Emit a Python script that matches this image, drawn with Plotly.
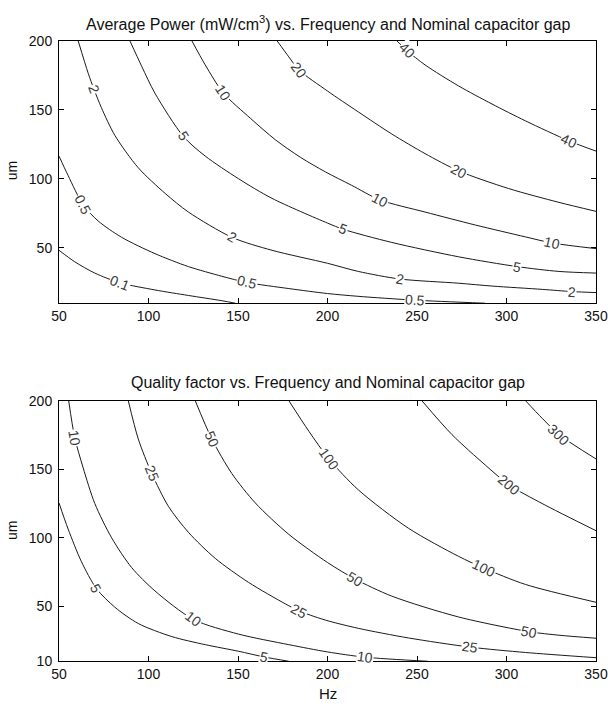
import math
import plotly.graph_objects as go

# ---------------- data ----------------
FREQ_TICKS = [50, 100, 150, 200, 250, 300, 350]
GAP_TICKS_TOP = [50, 100, 150, 200]
GAP_TICKS_BOTTOM = [10, 50, 100, 150, 200]

# Average power contour lines: frequency (Hz) / gap (um)
p_levels = [0.1, 0.5, 2, 5, 10, 20, 40]
p_01_x = [50, 58.8, 70.0, 84.0, 103.6, 122.3, 141.0, 148.5]
p_01_y = [48.3, 40.0, 31.8, 24.8, 19.6, 15.6, 11.8, 10.0]
p_05_x = [50, 55.1, 63.5, 71.9, 85.0, 103.6, 122.3, 141.0, 155.0, 178.4, 200.0, 217.0, 248.9, 288.0]
p_05_y = [116.5, 102.4, 81.2, 69.5, 57.7, 45.9, 36.5, 29.5, 25.0, 20.6, 17.0, 15.0, 12.2, 10.0]
p_2_x = [60.7, 66.3, 69.5, 73.7, 81.2, 94.3, 109.3, 122.3, 146.6, 169.0, 200.0, 217.2, 240.5, 273.0, 292.0, 320.0, 336.7, 350.0]
p_2_y = [200.0, 176.5, 165.0, 151.5, 131.5, 108.0, 89.5, 76.0, 57.7, 48.3, 38.9, 33.0, 27.5, 24.5, 22.4, 20.0, 18.4, 17.7]
p_5_x = [89.6, 96.2, 103.6, 119.5, 131.7, 150.3, 169.0, 200.0, 208.8, 235.9, 273.2, 305.9, 329.3, 350.0]
p_5_y = [200.0, 181.5, 162.0, 130.7, 116.5, 100.1, 85.9, 68.0, 63.5, 54.0, 43.6, 36.5, 33.0, 31.8]
p_10_x = [124.2, 131.7, 141.8, 156.9, 170.9, 184.9, 198.9, 213.4, 229.3, 254.5, 282.6, 310.6, 325.5, 350.0]
p_10_y = [200.0, 182.5, 162.2, 143.9, 128.3, 115.6, 105.0, 95.4, 84.8, 76.0, 66.6, 58.0, 53.6, 49.5]
p_20_x = [171.8, 178.4, 184.0, 200.0, 217.2, 235.9, 254.5, 273.2, 301.2, 329.3, 350.0]
p_20_y = [200.0, 188.3, 178.9, 163.6, 148.5, 132.5, 118.3, 105.8, 93.0, 83.0, 76.5]
p_40_x = [238.7, 244.3, 254.5, 273.2, 291.9, 310.6, 334.9, 350.0]
p_40_y = [200.0, 193.0, 182.5, 167.3, 154.2, 142.0, 127.5, 120.1]

p_label_level = [0.1, 0.5, 0.5, 0.5, 2, 2, 2, 2, 5, 5, 5, 10, 10, 10, 20, 20, 40, 40]
p_label_x = [84.0, 63.5, 155.0, 248.9, 69.5, 146.6, 240.5, 336.7, 119.5, 208.8, 305.9, 141.8, 229.3, 325.5, 184.0, 273.2, 244.3, 334.9]
p_label_y = [24.8, 81.2, 25.0, 12.2, 165.0, 57.7, 27.5, 18.4, 130.7, 63.5, 36.5, 162.2, 84.8, 53.6, 178.9, 105.8, 193.0, 127.5]
p_label_text = ["0.1", "0.5", "0.5", "0.5", "2", "2", "2", "2", "5", "5", "5", "10", "10", "10", "20", "20", "40", "40"]

# Quality factor contour lines
q_levels = [5, 10, 25, 50, 100, 200, 300]
q_5_x = [50, 55.1, 62.5, 70.9, 81.2, 94.3, 113.0, 131.7, 150.3, 164.4, 178.4]
q_5_y = [125.4, 106.4, 82.7, 63.0, 49.4, 37.5, 28.0, 22.1, 17.3, 13.2, 10.0]
q_10_x = [55.4, 58.8, 63.5, 70.0, 79.4, 90.6, 103.6, 125.1, 150.3, 178.4, 200.0, 220.9, 256.0]
q_10_y = [200.0, 173.0, 151.0, 125.0, 100.0, 78.3, 61.3, 40.5, 29.8, 22.1, 16.8, 13.0, 10.0]
q_25_x = [88.7, 94.3, 101.8, 111.1, 122.3, 137.3, 155.9, 176.5, 184.0, 192.4, 201.0, 217.2, 245.2, 279.8, 310.6, 350.0]
q_25_y = [200.0, 172.0, 147.0, 123.0, 104.0, 85.0, 67.5, 51.8, 46.8, 42.7, 39.2, 34.0, 27.0, 20.3, 16.4, 12.6]
q_50_x = [126.1, 135.4, 146.6, 159.7, 178.4, 200.0, 215.3, 235.9, 273.2, 312.5, 329.3, 350.0]
q_50_y = [200.0, 172.0, 146.8, 125.4, 102.5, 82.0, 70.0, 57.5, 42.3, 31.6, 29.0, 26.8]
q_100_x = [178.4, 189.6, 200.8, 217.2, 245.2, 273.2, 287.2, 310.6, 350.0]
q_100_y = [200.0, 177.7, 157.5, 135.0, 107.0, 86.5, 78.0, 66.0, 53.0]
q_200_x = [252.7, 269.5, 288.2, 301.5, 319.9, 350.0]
q_200_y = [200.0, 175.3, 153.0, 138.5, 125.0, 105.2]
q_300_x = [310.6, 319.9, 329.3, 350.0]
q_300_y = [200.0, 187.2, 175.3, 157.5]

q_label_level = [10, 5, 25, 50, 100, 200, 300, 10, 25, 50, 100, 50, 25, 10, 5]
q_label_x = [58.8, 70.9, 101.8, 135.4, 200.8, 301.5, 329.3, 125.1, 184.0, 215.3, 287.2, 312.5, 279.8, 220.9, 164.4]
q_label_y = [173.0, 63.0, 147.0, 172.0, 157.5, 138.5, 175.3, 40.5, 46.8, 70.0, 78.0, 31.6, 20.3, 13.0, 13.2]
q_label_text = ["10", "5", "25", "50", "100", "200", "300", "10", "25", "50", "100", "50", "25", "10", "5"]

# ---------------- layout geometry ----------------
W, H = 608, 711
ML, MR = 59, 11
TOP_DOM = [1 - 302.0 / H, 1 - 33.5 / H]
BOT_DOM = [1 - 668.3 / H, 1 - 401.7 / H]
XR = [50, 350]
YR = [10, 200]
FONT = "Liberation Sans, Arial, Helvetica, sans-serif"
LINE_COLOR = "#1a1a1a"

p_lines = {0.1: (p_01_x, p_01_y), 0.5: (p_05_x, p_05_y), 2: (p_2_x, p_2_y),
           5: (p_5_x, p_5_y), 10: (p_10_x, p_10_y), 20: (p_20_x, p_20_y),
           40: (p_40_x, p_40_y)}
q_lines = {5: (q_5_x, q_5_y), 10: (q_10_x, q_10_y), 25: (q_25_x, q_25_y),
           50: (q_50_x, q_50_y), 100: (q_100_x, q_100_y), 200: (q_200_x, q_200_y),
           300: (q_300_x, q_300_y)}

fig = go.Figure()
for lvl in p_levels:
    xs, ys = p_lines[lvl]
    fig.add_trace(go.Scatter(x=xs, y=ys, mode="lines", xaxis="x", yaxis="y",
                             line=dict(color=LINE_COLOR, width=1, shape="spline", smoothing=0.8),
                             showlegend=False, hoverinfo="skip"))
for lvl in q_levels:
    xs, ys = q_lines[lvl]
    fig.add_trace(go.Scatter(x=xs, y=ys, mode="lines", xaxis="x2", yaxis="y2",
                             line=dict(color=LINE_COLOR, width=1, shape="spline", smoothing=0.8),
                             showlegend=False, hoverinfo="skip"))

plot_w = W - ML - MR


def label_angle(xs, ys, lx, ly, sx, sy):
    best = None
    for i in range(len(xs) - 1):
        ax, ay = xs[i] * sx, ys[i] * sy
        bx, by = xs[i + 1] * sx, ys[i + 1] * sy
        px, py = lx * sx, ly * sy
        dx, dy = bx - ax, by - ay
        L2 = dx * dx + dy * dy
        t = 0 if L2 == 0 else max(0, min(1, ((px - ax) * dx + (py - ay) * dy) / L2))
        d = (ax + t * dx - px) ** 2 + (ay + t * dy - py) ** 2
        if best is None or d < best[0]:
            best = (d, dx, dy)
    _, dx, dy = best
    ang = math.degrees(math.atan2(-dy, dx))
    if ang > 90:
        ang -= 180
    if ang < -90:
        ang += 180
    return ang


annotations = []
for lines, lev, lx_, ly_, lt_, dom, xref, yref in [
    (p_lines, p_label_level, p_label_x, p_label_y, p_label_text, TOP_DOM, "x", "y"),
    (q_lines, q_label_level, q_label_x, q_label_y, q_label_text, BOT_DOM, "x2", "y2"),
]:
    sx = plot_w / (XR[1] - XR[0])
    sy = (dom[1] - dom[0]) * H / (YR[1] - YR[0])
    for lvl, lx, ly, txt in zip(lev, lx_, ly_, lt_):
        xs, ys = lines[lvl]
        ang = label_angle(xs, ys, lx, ly, sx, sy)
        annotations.append(dict(x=lx, y=ly, xref=xref, yref=yref, text=txt,
                                showarrow=False, textangle=ang, bgcolor="white",
                                borderpad=0, font=dict(family=FONT, size=14, color="#3a3a3a")))

# titles and axis labels
annotations.append(dict(x=0.5, y=1 - 15.0 / H, xref="paper", yref="paper",
                        text="Average Power (mW/cm<sup>3</sup>) vs. Frequency and Nominal capacitor gap",
                        showarrow=False, xanchor="center", yanchor="middle",
                        font=dict(family=FONT, size=16, color="#111")))
annotations.append(dict(x=0.5, y=1 - 383.0 / H, xref="paper", yref="paper",
                        text="Quality factor vs. Frequency and Nominal capacitor gap",
                        showarrow=False, xanchor="center", yanchor="middle",
                        font=dict(family=FONT, size=16, color="#111")))
annotations.append(dict(x=0.5, y=1 - 701.0 / H, xref="paper", yref="paper", text="Hz",
                        showarrow=False, xanchor="center", yanchor="middle",
                        font=dict(family=FONT, size=15, color="#111")))
for yc in [167.0, 535.0]:
    annotations.append(dict(x=(12 - ML) / plot_w, y=1 - yc / H, xref="paper", yref="paper",
                            text="um", textangle=-90, showarrow=False,
                            xanchor="center", yanchor="middle",
                            font=dict(family=FONT, size=14, color="#111")))

axis_common = dict(range=XR, showline=True, linecolor="black", linewidth=1, mirror="ticks",
                   ticks="inside", ticklen=5, tickcolor="black", showgrid=False, zeroline=False,
                   tickfont=dict(family=FONT, size=14, color="#111"), fixedrange=True,
                   ticklabeloverflow="allow")

fig.update_layout(
    width=W, height=H, margin=dict(l=ML, r=MR, t=0, b=0),
    paper_bgcolor="white", plot_bgcolor="white",
    xaxis=dict(axis_common, domain=[0, 1], anchor="y", tickvals=FREQ_TICKS),
    yaxis=dict(axis_common, range=YR, domain=TOP_DOM, anchor="x", tickvals=GAP_TICKS_TOP,
               ticklabelstandoff=3),
    xaxis2=dict(axis_common, domain=[0, 1], anchor="y2", tickvals=FREQ_TICKS),
    yaxis2=dict(axis_common, range=YR, domain=BOT_DOM, anchor="x2", tickvals=GAP_TICKS_BOTTOM,
                ticklabelstandoff=3),
    annotations=annotations,
    showlegend=False,
)

fig.write_html("out.html")
